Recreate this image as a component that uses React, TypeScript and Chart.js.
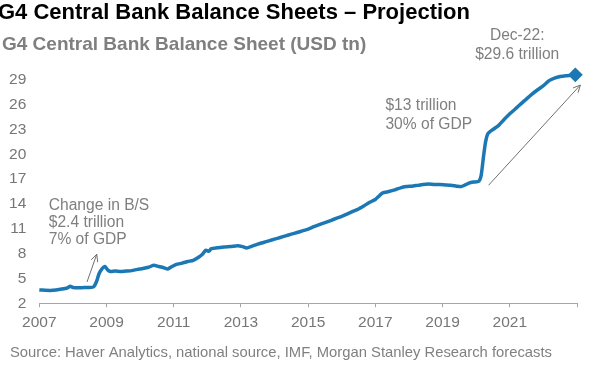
import React, { useEffect, useRef } from "react";
import { Chart, registerables } from "chart.js";

Chart.register(...registerables);

const TITLE = "G4 Central Bank Balance Sheets – Projection";
const SUBTITLE = "G4 Central Bank Balance Sheet (USD tn)";
const SOURCE = "Source: Haver Analytics, national source, IMF, Morgan Stanley Research forecasts";

// decimal year of each observation
const dates = [
  2007.0, 2007.17, 2007.33, 2007.5, 2007.67, 2007.83, 2007.92, 2008.0, 2008.17, 2008.33,
  2008.5, 2008.62, 2008.7, 2008.78, 2008.87, 2008.95, 2009.04, 2009.12, 2009.25, 2009.42,
  2009.58, 2009.75, 2009.92, 2010.08, 2010.25, 2010.4, 2010.55, 2010.7, 2010.82, 2010.95,
  2011.08, 2011.25, 2011.42, 2011.58, 2011.75, 2011.87, 2011.95, 2012.05, 2012.12, 2012.3,
  2012.5, 2012.7, 2012.9, 2013.05, 2013.17, 2013.33, 2013.5, 2013.67, 2013.83, 2014.0,
  2014.17, 2014.33, 2014.5, 2014.67, 2014.83, 2015.0, 2015.17, 2015.33, 2015.5, 2015.67,
  2015.83, 2016.0, 2016.17, 2016.33, 2016.5, 2016.67, 2016.83, 2017.0, 2017.12, 2017.22,
  2017.4, 2017.58, 2017.75, 2017.92, 2018.08, 2018.25, 2018.42, 2018.58, 2018.75, 2018.92,
  2019.08, 2019.25, 2019.42, 2019.55, 2019.67, 2019.8, 2019.92, 2020.08, 2020.15, 2020.22,
  2020.28, 2020.35, 2020.5, 2020.67, 2020.83, 2021.0, 2021.17, 2021.33, 2021.5, 2021.67,
  2021.83, 2022.0, 2022.17, 2022.33, 2022.5, 2022.67, 2022.83, 2022.95,
];

// G4 central bank balance sheet, USD tn
const balance = [
  3.62, 3.58, 3.56, 3.62, 3.72, 3.85, 4.05, 3.92, 3.88, 3.9,
  3.9, 4.0, 4.6, 5.6, 6.2, 6.45, 6.0, 5.85, 5.9, 5.85,
  5.9, 5.95, 6.1, 6.2, 6.35, 6.6, 6.45, 6.3, 6.15, 6.45,
  6.7, 6.85, 7.05, 7.2, 7.6, 8.0, 8.4, 8.3, 8.6, 8.7,
  8.8, 8.85, 8.95, 8.85, 8.68, 8.9, 9.15, 9.35, 9.55, 9.75,
  9.95, 10.15, 10.35, 10.55, 10.75, 10.95, 11.25, 11.5, 11.75, 12.0,
  12.25, 12.5, 12.8, 13.1, 13.4, 13.8, 14.2, 14.55, 15.0, 15.35,
  15.5, 15.7, 15.95, 16.1, 16.15, 16.25, 16.35, 16.4, 16.35, 16.35,
  16.3, 16.25, 16.15, 16.1, 16.3, 16.55, 16.65, 16.75, 17.5, 19.8,
  21.5, 22.5, 23.0, 23.5, 24.2, 24.9, 25.5, 26.1, 26.7, 27.3,
  27.8, 28.3, 28.9, 29.2, 29.4, 29.5, 29.55, 29.6,
];

const yTickLabels = [2, 5, 8, 11, 14, 17, 20, 23, 26, 29];
const xTickLabels = [2007, 2009, 2011, 2013, 2015, 2017, 2019, 2021];

const noteTexts = [
  ["Change in B/S", "$2.4 trillion", "7% of GDP"],
  ["$13 trillion", "30% of GDP"],
  ["Dec-22:", "$29.6 trillion"],
];
// anchor of each note's first baseline in data units (year, USD tn)
const noteAnchors = [
  [2007.28, 13.3],
  [2017.3, 25.35],
  [2021.22, 33.8],
];
const arrowFrom = [
  [2008.42, 4.58],
  [2020.37, 16.27],
];
const arrowTo = [
  [2008.71, 7.93],
  [2023.1, 28.37],
];

const FONT = "'Liberation Sans', Arial, Helvetica, sans-serif";
const LINE_COLOR = "#1b78b4";
const GREY = "#7f7f7f";

const overlay = {
  id: "overlay",
  afterDraw(chart: any) {
    const { ctx } = chart;
    const xs = chart.scales.x;
    const ys = chart.scales.y;
    ctx.save();
    ctx.textBaseline = "alphabetic";

    ctx.fillStyle = "#000000";
    ctx.font = `bold 22px ${FONT}`;
    ctx.textAlign = "left";
    ctx.fillText(TITLE, -2, 18.5);

    ctx.fillStyle = GREY;
    ctx.font = `bold 19px ${FONT}`;
    ctx.fillText(SUBTITLE, 2, 50);

    ctx.font = `14.8px ${FONT}`;
    ctx.fillStyle = "#808080";
    ctx.fillText(SOURCE, 10, 357);

    ctx.font = `15.6px ${FONT}`;
    ctx.fillStyle = GREY;
    const gaps = [17, 19, 18.5];
    noteTexts.forEach((lines, i) => {
      const px = xs.getPixelForValue(noteAnchors[i][0]);
      const py = ys.getPixelForValue(noteAnchors[i][1]);
      ctx.textAlign = i === 2 ? "center" : "left";
      lines.forEach((t, j) => ctx.fillText(t, px, py + j * gaps[i]));
    });

    ctx.strokeStyle = "#707070";
    ctx.lineWidth = 1;
    arrowFrom.forEach((f, i) => {
      const x1 = xs.getPixelForValue(f[0]);
      const y1 = ys.getPixelForValue(f[1]);
      const x2 = xs.getPixelForValue(arrowTo[i][0]);
      const y2 = ys.getPixelForValue(arrowTo[i][1]);
      const a = Math.atan2(y2 - y1, x2 - x1);
      const L = 8;
      const s = 0.45;
      ctx.beginPath();
      ctx.moveTo(x1, y1);
      ctx.lineTo(x2, y2);
      ctx.moveTo(x2 - L * Math.cos(a - s), y2 - L * Math.sin(a - s));
      ctx.lineTo(x2, y2);
      ctx.lineTo(x2 - L * Math.cos(a + s), y2 - L * Math.sin(a + s));
      ctx.stroke();
    });
    ctx.restore();
  },
};

export default function App() {
  const ref = useRef<HTMLCanvasElement | null>(null);

  useEffect(() => {
    if (!ref.current) return;
    const points = dates.map((d, i) => ({ x: d, y: balance[i] }));
    const chart = new Chart(ref.current, {
      type: "line",
      data: {
        datasets: [
          {
            data: points,
            borderColor: LINE_COLOR,
            backgroundColor: LINE_COLOR,
            borderWidth: 3.5,
            tension: 0.2,
            pointRadius: points.map((_, i) => (i === points.length - 1 ? 5 : 0)),
            pointHoverRadius: 0,
            pointStyle: "rectRot",
            pointBackgroundColor: LINE_COLOR,
            pointBorderColor: LINE_COLOR,
            clip: false as any,
          },
        ],
      },
      options: {
        animation: false,
        responsive: false,
        devicePixelRatio: 1,
        layout: { padding: { left: 0, right: 16, top: 55, bottom: 0 } },
        plugins: {
          legend: { display: false },
          tooltip: { enabled: false },
          title: { display: false },
        },
        scales: {
          x: {
            type: "linear",
            min: 2007,
            max: 2023,
            afterFit: (s: any) => {
              s.height = 66.7;
            },
            ticks: {
              stepSize: 2,
              autoSkip: false,
              maxRotation: 0,
              padding: 6,
              color: "#767676",
              font: { family: FONT, size: 15.5 },
              callback: (v: any) => (xTickLabels.includes(Number(v)) ? String(v) : ""),
            },
            grid: {
              display: true,
              drawOnChartArea: false,
              drawTicks: true,
              tickLength: 4,
              color: "#a6a6a6",
            },
            border: { display: true, color: "#a6a6a6", width: 1 },
          },
          y: {
            type: "linear",
            min: 2,
            max: 32,
            afterFit: (s: any) => {
              s.width = 39.3;
            },
            ticks: {
              stepSize: 3,
              autoSkip: false,
              padding: 13,
              color: "#767676",
              font: { family: FONT, size: 15.5 },
              callback: (v: any) => (yTickLabels.includes(Number(v)) ? String(v) : ""),
            },
            grid: { display: false, drawTicks: false },
            border: { display: false },
          },
        },
      },
      plugins: [overlay],
    });
    return () => chart.destroy();
  }, []);

  return (
    <div style={{ position: "absolute", left: 0, top: 0, width: 593, height: 370, background: "#fff" }}>
      <canvas ref={ref} width={593} height={370} style={{ display: "block", width: 593, height: 370 }} />
    </div>
  );
}
